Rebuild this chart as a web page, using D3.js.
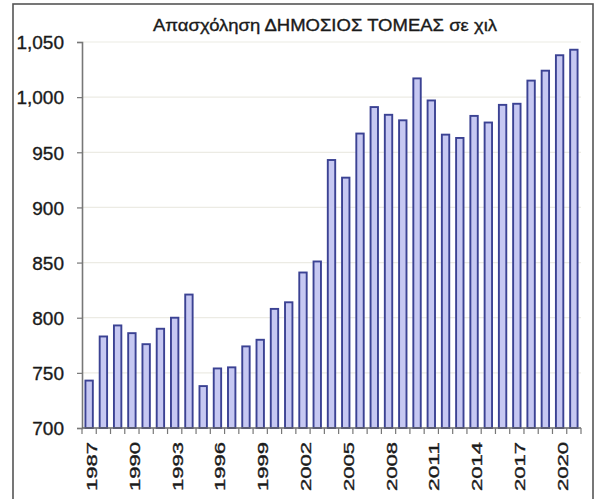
<!DOCTYPE html>
<html><head><meta charset="utf-8">
<script src="https://cdn.jsdelivr.net/npm/d3@7"></script>
<style>body{margin:0;background:#fff}svg{display:block}</style>
</head><body>
<script>
const title = "Απασχόληση ΔΗΜΟΣΙΟΣ ΤΟΜΕΑΣ σε χιλ";
const years = d3.range(1987, 2022).map(String);
const values = [743, 783, 793, 786, 776, 790, 800, 821, 738, 754, 755, 774, 780, 808, 814,
  841, 851, 943, 927, 967, 991, 984, 979, 1017, 997, 966, 963, 983, 977, 993, 994, 1015, 1024, 1038, 1043];
const yTicks = [700, 750, 800, 850, 900, 950, 1000, 1050];
const xLabelYears = ["1987","1990","1993","1996","1999","2002","2005","2008","2011","2014","2017","2020"];

const W = 595, H = 499;
const svg = d3.select("body").append("svg").attr("width", W).attr("height", H);

svg.append("rect").attr("x", 13).attr("y", 4).attr("width", 580).attr("height", 510)
  .attr("fill", "#fff").attr("stroke", "#555").attr("stroke-width", 1.6);

const x = d3.scaleBand().domain(years).range([82, 581]).paddingInner(0.48).paddingOuter(0.24);
const y = d3.scaleLinear().domain([700, 1050]).range([428, 42]);

// gridlines
svg.append("g").selectAll("line").data(yTicks.slice(1)).join("line")
  .attr("x1", 82).attr("x2", 581).attr("y1", d => y(d)).attr("y2", d => y(d))
  .attr("stroke", "#ecebe4").attr("stroke-width", 1.2);

// bars
svg.append("g").selectAll("rect").data(values).join("rect")
  .attr("x", (d, i) => x(years[i]))
  .attr("y", d => y(d))
  .attr("width", x.bandwidth())
  .attr("height", d => y(700) - y(d))
  .attr("fill", "#c6c8f2").attr("stroke", "#3b4293").attr("stroke-width", 1.9);

const txtStyle = sel => sel.attr("font-family", "Liberation Sans, Arial, sans-serif")
  .attr("fill", "#1a1a1a").attr("stroke", "#1a1a1a").attr("stroke-width", 0.35);

// y axis
const yAxis = d3.axisLeft(y).tickValues(yTicks).tickSize(5).tickPadding(13)
  .tickFormat(d3.format(","));
const gy = svg.append("g").attr("transform", "translate(82,0)").call(yAxis);
gy.select(".domain").attr("stroke", "#777").attr("stroke-width", 1.6);
gy.selectAll(".tick line").attr("stroke", "#777").attr("stroke-width", 1.2);
gy.selectAll(".tick text").call(txtStyle).attr("font-size", 19).attr("dy", "0.36em");

// x axis line and ticks at category boundaries
const boundaries = d3.range(years.length + 1).map(i => 82 + i * (499 / years.length));
const gx = svg.append("g");
gx.append("line").attr("x1", 82).attr("x2", 581).attr("y1", 428).attr("y2", 428)
  .attr("stroke", "#666").attr("stroke-width", 1.6);
gx.selectAll("line.t").data(boundaries).join("line").attr("class", "t")
  .attr("x1", d => d).attr("x2", d => d).attr("y1", 428).attr("y2", 434)
  .attr("stroke", "#777").attr("stroke-width", 1.2);

// x labels (rotated)
gx.selectAll("text").data(xLabelYears).join("text")
  .attr("transform", d => `translate(${x(d) + x.bandwidth() / 2 + 8},442) rotate(-90)`)
  .attr("text-anchor", "end")
  .call(txtStyle)
  .attr("font-size", 14)
  .attr("textLength", 49).attr("lengthAdjust", "spacingAndGlyphs")
  .text(d => d);

// title
svg.append("text").attr("x", 153).attr("y", 31)
  .call(txtStyle)
  .attr("font-size", 17)
  .attr("textLength", 344).attr("lengthAdjust", "spacingAndGlyphs")
  .text(title);
</script>
</body></html>
